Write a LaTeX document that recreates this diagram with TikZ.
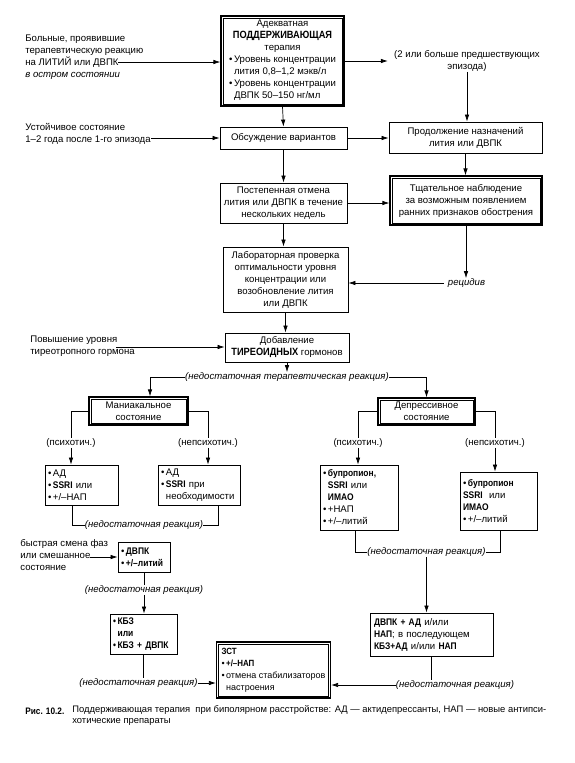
\documentclass[tikz,border=0pt]{standalone}
\usepackage{fontspec}
\setmainfont{Liberation Sans}[BoldFeatures={FakeStretch=0.88}]
\usetikzlibrary{arrows.meta,calc,positioning}

\def\bul{•\,}
\def\bulSkip{\phantom{•\,}}
\def\leftBlock#1{\begin{tabular}[t]{@{}l@{}}#1\end{tabular}}

\begin{document}
\begin{tikzpicture}[x=1pt,y=-1pt,line width=0.7pt,>={Latex[length=7pt,width=4.5pt]},
    every node/.style={font=\fontsize{9.6}{12}\selectfont,inner sep=0pt},
    box/.style={draw,line width=0.8pt,align=center},
    listbox/.style={draw,line width=0.8pt,align=left,inner xsep=3pt},
    dbox/.style={draw,line width=1.2pt},
    note/.style={align=left},
    lbl/.style={font=\fontsize{9.6}{12}\selectfont\itshape}]

  \fill[white] (0,0) rectangle (574,763);
  \useasboundingbox (0,0) rectangle (574,763);

  % draw the main column
  \node[dbox,align=center,minimum width=123pt,minimum height=90pt] (support) at (282.5,61)
    {Адекватная\\{\bfseries\fontsize{10.5}{12}\selectfont ПОДДЕРЖИВАЮЩАЯ}\\терапия\\
     \leftBlock{\bul Уровень концентрации\\\bulSkip лития 0,8–1,2 мэкв/л\\\bul Уровень концентрации\\\bulSkip ДВПК 50–150 нг/мл}};
  \node[box,minimum width=127pt,minimum height=22pt] (discuss) at (283.5,138) {Обсуждение вариантов};
  \node[box,minimum width=127pt,minimum height=40pt] (taper) at (283.5,203)
    {Постепенная отмена\\лития или ДВПК в течение\\нескольких недель};
  \node[box,minimum width=125pt,minimum height=65pt] (lab) at (285.5,279.5)
    {Лабораторная проверка\\оптимальности уровня\\концентрации или\\возобновление лития\\или ДВПК};
  \node[box,minimum width=124pt,minimum height=29pt] (thyroid) at (287,347.5)
    {Добавление\\{\bfseries\fontsize{10.5}{12}\selectfont ТИРЕОИДНЫХ} гормонов};

  % draw the side column
  \node[box,minimum width=153pt,minimum height=31pt] (continue) at (465.5,137.5)
    {Продолжение назначений\\лития или ДВПК};
  \node[dbox,align=center,minimum width=152pt,minimum height=49pt] (watch) at (466,200.5)
    {Тщательное наблюдение\\за возможным появлением\\ранних признаков обострения};

  % draw the notes on the left and right
  \node[note,anchor=west] (acute) at (25,57)
    {Больные, проявившие\\терапевтическую реакцию\\на ЛИТИЙ или ДВПК\\\textit{в остром состоянии}};
  \coordinate (acuteTip) at (118,62);
  \node[align=center] (prior) at (467,61) {(2 или больше предшествующих\\эпизода)};
  \node[note,anchor=west] (stable) at (25,134) {Устойчивое состояние\\1–2 года после 1-го эпизода};
  \node[lbl] (relapse) at (466.5,283) {рецидив};
  \node[note,anchor=west] (tsh) at (30,346) {Повышение уровня\\тиреотропного гормона};
  \coordinate (tshTip) at (116,347);
  \node[lbl] (failTher) at (287,377) {(недостаточная терапевтическая реакция)};

  % draw the two states
  \node[dbox,align=center,minimum width=99pt,minimum height=28pt] (mania) at (138.5,411) {Маниакальное\\состояние};
  \node[dbox,align=center,minimum width=97pt,minimum height=27pt] (depr) at (426.5,411.5) {Депрессивное\\состояние};

  \def\branches{71/{(психотич.)}, 208/{(непсихотич.)}, 358/{(психотич.)}, 495/{(непсихотич.)}}
  \foreach \bx/\txt [count=\ni] in \branches
    \node (branch\ni) at (\bx,443) {\txt};

  % draw the drug boxes
  \node[listbox,minimum width=73pt,minimum height=40pt,text width=67pt] (maniaP) at (81.5,485)
    {\bul АД\\\bul \textbf{SSRI} или\\\bul +/–НАП};
  \node[listbox,minimum width=82pt,minimum height=40pt,text width=76pt] (maniaN) at (199,485)
    {\bul АД\\\bul \textbf{SSRI} при\\\bulSkip необходимости};
  \node[listbox,minimum width=78pt,minimum height=65pt,text width=72pt] (deprP) at (359,497.5)
    {\bul \textbf{бупропион,}\\\bulSkip\textbf{SSRI} или\\\bulSkip\textbf{ИМАО}\\\bul +НАП\\\bul +/–литий};
  \node[listbox,minimum width=77pt,minimum height=58pt,text width=71pt] (deprN) at (498.5,501)
    {\bul \textbf{бупропион}\\\textbf{SSRI} \ или\\\textbf{ИМАО}\\\bul +/–литий};
  \node[listbox,minimum width=52pt,minimum height=30pt,text width=46pt] (rapid) at (144,557)
    {\bul \textbf{ДВПК}\\\bul \textbf{+/–литий}};
  \node[note,anchor=west] (rapidNote) at (20,555) {быстрая смена фаз\\или смешанное\\состояние};
  \coordinate (rapidTip) at (90,557);
  \node[listbox,minimum width=67pt,minimum height=40pt,text width=61pt] (cbz) at (143.5,634)
    {\bfseries\bul КБЗ\\\bulSkip или\\\bul КБЗ + ДВПК};
  \node[listbox,minimum width=123pt,minimum height=43pt,text width=115pt] (combo) at (431.5,634.5)
    {\textbf{ДВПК + АД} и/или\\\textbf{НАП}; в последующем\\\textbf{КБЗ+АД} и/или \textbf{НАП}};
  \node[dbox,align=left,inner xsep=5pt,minimum width=103pt,minimum height=56pt,
        font=\fontsize{9}{12}\selectfont] (ect) at (273.5,670)
    {\textbf{ЗСТ}\\\bul \textbf{+/–НАП}\\\bul отмена стабилизаторов\\\bulSkip настроения};

  % inner line of the double frames
  \foreach \dn in {support,watch,mania,depr,ect}
    \draw[line width=0.45pt] ([xshift=2.8pt,yshift=-2.8pt]\dn.north west) rectangle ([xshift=-2.8pt,yshift=2.8pt]\dn.south east);

  \def\failures{144/525, 144/590, 138.5/683, 426.5/552, 455/685}
  \foreach \fx/\fy [count=\ni] in \failures
    \node[lbl] (fail\ni) at (\fx,\fy) {(недостаточная реакция)};

  % draw the arrows of the upper part
  \draw[->] (acuteTip) -- (acuteTip -| support.west);
  \draw[->,shorten >=6pt] (support.east |- prior.west) -- (prior.west);
  \draw[->] (prior.south) -- (prior.south |- continue.north);
  \draw[->] (support.south) -- (discuss.north);
  \draw[->] (stable.east |- discuss.west) -- (discuss.west);
  \draw[->] (discuss.east) -- (discuss.east -| continue.west);
  \draw[->] (discuss.south) -- (taper.north);
  \draw[->] (continue.south) -- (continue.south |- watch.north);
  \draw[->] (taper.east) -- (taper.east -| watch.west);
  \draw[->] (taper.south) -- (taper.south |- lab.north);
  \draw[->] (watch.south) -- (watch.south |- relapse.north);
  \draw[->,shorten <=4pt] (relapse.west) -- (relapse.west -| lab.east);
  \draw[->] (lab.south) -- (lab.south |- thyroid.north);
  \draw[->] (tshTip) -- (tshTip -| thyroid.west);
  \draw[->] (thyroid.south) -- (thyroid.south |- failTher.north);

  % draw the branches
  \draw[->] (failTher.west) -| ([xshift=11.5pt]mania.north);
  \draw[->] (failTher.east) -| (depr.north);
  \foreach \boxName/\side/\ni in {mania/west/1, mania/east/2, depr/west/3, depr/east/4}
    \draw (\boxName.\side) -| (branch\ni.north);
  \foreach \boxName [count=\ni] in {maniaP, maniaN, deprP, deprN}
    \draw[->] (branch\ni.south) -- (branch\ni.south |- \boxName.north);

  % draw the arrows of the lower part
  \draw (fail1.west) -| ([xshift=-9.5pt]maniaP.south);
  \draw (fail1.east) -| ([xshift=19pt]maniaN.south);
  \draw[->] (rapidTip) -- (rapidTip -| rapid.west);
  \draw (rapid.south) -- (fail2.north);
  \draw[->] (fail2.south) -- (fail2.south |- cbz.north);
  \draw (cbz.south) -- (cbz.south |- fail3.north);
  \draw[->] (fail3.east) -- (fail3.east -| ect.west);
  \draw (fail4.west) -| ([xshift=-4pt]deprP.south);
  \draw (fail4.east) -| ([xshift=1.5pt]deprN.south);
  \draw[->] (fail4.south) -- (fail4.south |- combo.north);
  \draw (combo.south) -- (combo.south |- fail5.north);
  \draw[->] (fail5.west) -- (fail5.west -| ect.east);

  % caption
  \node[anchor=west,font=\fontsize{9.4}{11.5}\selectfont\bfseries] (figNum) at (25,711) {Рис. 10.2.};
  \node[anchor=north west,align=left,font=\fontsize{9.4}{11.5}\selectfont] (figText) at (72,705)
    {Поддерживающая терапия \ при биполярном расстройстве: АД — актидепрессанты, НАП — новые антипси-\\хотические препараты};
\end{tikzpicture}
\end{document}
